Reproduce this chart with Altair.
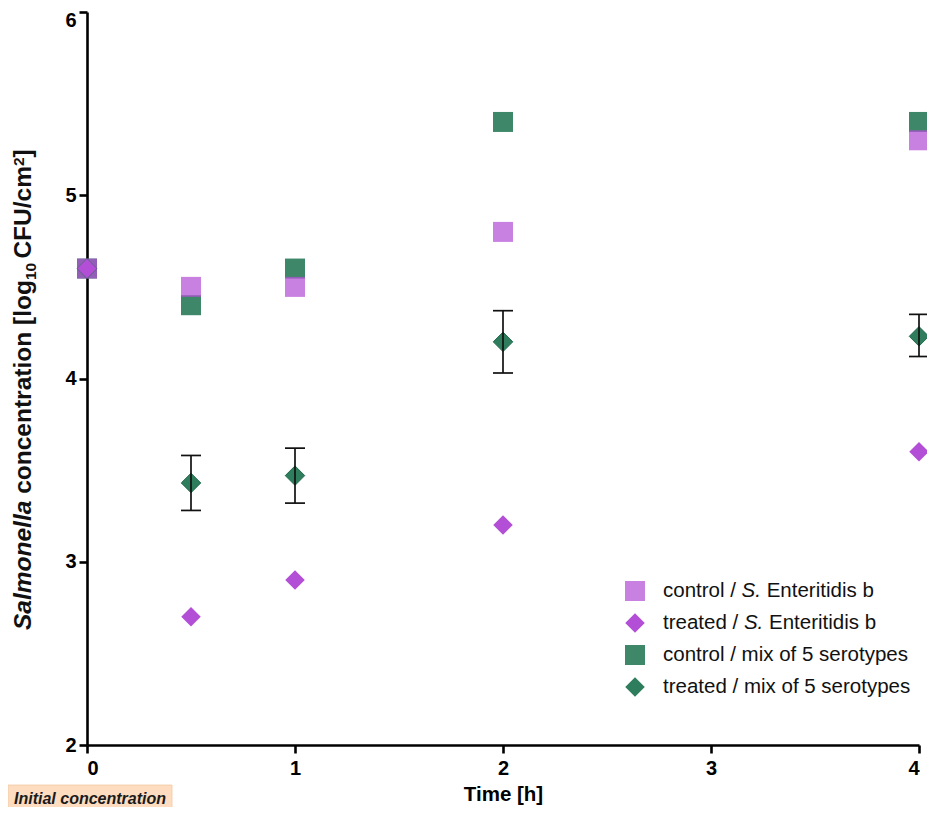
import altair as alt
import pandas as pd

# ---------------- data ----------------
time_h = [0, 0.5, 1, 2, 4]
control_se = [4.6, 4.5, 4.5, 4.8, 5.3]
treated_se = [4.6, 2.7, 2.9, 3.2, 3.6]
control_mix = [4.6, 4.4, 4.6, 5.4, 5.4]
treated_mix = [4.6, 3.43, 3.47, 4.2, 4.23]
err_time = [0.5, 1, 2, 4]
treated_mix_lo = [3.28, 3.32, 4.03, 4.12]
treated_mix_hi = [3.58, 3.62, 4.37, 4.35]
x_ticks = [0, 1, 2, 3, 4]
y_ticks = [2, 3, 4, 5, 6]

legend_rows = [
    ("control /", "S.", "Enteritidis b"),
    ("treated /", "S.", "Enteritidis b"),
    ("control / mix of 5 serotypes", "", ""),
    ("treated / mix of 5 serotypes", "", ""),
]
x_title = "Time [h]"
y_title_parts = ["Salmonella", "concentration [log", "10", "CFU/cm", "2", "]"]
note_text = "Initial concentration"

PURPLE = "#b34fd6"
GREEN = "#2e7d5c"
FONT = "Liberation Sans"

# Arial / Liberation Sans advance widths (per 1000 em)
REG = {' ': 278, '/': 278, '.': 278, 'a': 556, 'b': 556, 'c': 500, 'd': 556, 'e': 556,
       'f': 278, 'i': 222, 'l': 222, 'm': 833, 'n': 556, 'o': 556, 'p': 556, 'r': 333,
       's': 500, 't': 278, 'x': 500, 'y': 500, 'E': 667, 'S': 667, '5': 556}
BOLD = {' ': 278, '/': 278, '[': 333, ']': 333, 'a': 556, 'c': 556, 'e': 556, 'g': 611,
        'i': 278, 'l': 278, 'm': 889, 'n': 611, 'o': 611, 'r': 389, 't': 333, 'C': 722,
        'F': 611, 'U': 722, 'S': 667, '1': 556, '0': 556, '2': 556}


def tw(s, size, table):
    return sum(table.get(c, 556) for c in s) * size / 1000.0


df_cse = pd.DataFrame({"time": time_h, "value": control_se})
df_tse = pd.DataFrame({"time": time_h, "value": treated_se})
df_cmx = pd.DataFrame({"time": time_h, "value": control_mix})
df_tmx = pd.DataFrame({"time": time_h, "value": treated_mix})
df_err = pd.DataFrame({"time": err_time, "lo": treated_mix_lo, "hi": treated_mix_hi})

X = alt.X("time:Q", scale=alt.Scale(domain=[0, 4], nice=False, zero=False),
          axis=alt.Axis(values=x_ticks, title=x_title, format="d"))
Y_AX = alt.Axis(values=y_ticks, title=None, format="d",
                labelOffset={"condition": {"test": "datum.value >= 6", "value": 8},
                             "value": 0})
YS = alt.Scale(domain=[2, 6], nice=False, zero=False)

sq_mix = alt.Chart(df_cmx).mark_point(shape="square", filled=True, size=400,
                                        color=GREEN, opacity=0.92).encode(
    x=X, y=alt.Y("value:Q", scale=YS, axis=Y_AX))
sq_se = alt.Chart(df_cse).mark_point(shape="square", filled=True, size=400,
                                       color=PURPLE, opacity=0.72).encode(
    x=X, y=alt.Y("value:Q", scale=YS, axis=Y_AX))
dm_mix = alt.Chart(df_tmx).mark_point(shape="diamond", filled=True, size=380,
                                        color=GREEN, opacity=1, stroke="#1f6a4a",
                                        strokeWidth=1).encode(
    x=X, y=alt.Y("value:Q", scale=YS, axis=Y_AX))
dm_se = alt.Chart(df_tse).mark_point(shape="diamond", filled=True, size=380,
                                       color=PURPLE, opacity=1).encode(
    x=X, y=alt.Y("value:Q", scale=YS, axis=Y_AX))

err_rule = alt.Chart(df_err).mark_rule(color="#111111", strokeWidth=1.7).encode(
    x=X, y=alt.Y("lo:Q", scale=YS, axis=Y_AX), y2="hi:Q")
cap_lo = alt.Chart(df_err).mark_tick(orient="horizontal", size=20, thickness=1.7,
                                     color="#111111", opacity=1).encode(
    x=X, y=alt.Y("lo:Q", scale=YS, axis=Y_AX))
cap_hi = alt.Chart(df_err).mark_tick(orient="horizontal", size=20, thickness=1.7,
                                     color="#111111", opacity=1).encode(
    x=X, y=alt.Y("hi:Q", scale=YS, axis=Y_AX))

one = pd.DataFrame([{"k": 1}])

# ---------- legend (manual, to allow the italic "S.") ----------
LEG_FS = 20.5
leg_x_sym = 548
leg_x_txt = 576
leg_y0 = 579
leg_dy = 32
legend_layers = []
sym_defs = [("square", PURPLE, 0.72), ("diamond", PURPLE, 1.0),
            ("square", GREEN, 0.92), ("diamond", GREEN, 1.0)]
for i, (shape, col, op) in enumerate(sym_defs):
    yy = leg_y0 + i * leg_dy
    legend_layers.append(
        alt.Chart(one).mark_point(shape=shape, filled=True,
                                  size=400 if shape == "square" else 380,
                                  color=col, opacity=op).encode(
            x=alt.value(leg_x_sym), y=alt.value(yy)))
    pre, ital, post = legend_rows[i]
    legend_layers.append(
        alt.Chart(one).mark_text(text=pre, font=FONT, fontSize=LEG_FS, align="left",
                                 baseline="middle", color="#111111").encode(
            x=alt.value(leg_x_txt), y=alt.value(yy)))
    if ital:
        d1 = tw(pre + " ", LEG_FS, REG)
        d2 = d1 + tw(ital + " ", LEG_FS, REG)
        legend_layers.append(
            alt.Chart(one).mark_text(text=ital, font=FONT, fontSize=LEG_FS, align="left",
                                     baseline="middle", fontStyle="italic", dx=d1,
                                     color="#111111").encode(
                x=alt.value(leg_x_txt), y=alt.value(yy)))
        legend_layers.append(
            alt.Chart(one).mark_text(text=post, font=FONT, fontSize=LEG_FS, align="left",
                                     baseline="middle", dx=d2, color="#111111").encode(
                x=alt.value(leg_x_txt), y=alt.value(yy)))

# ---------- y title (rotated, mixed styles) ----------
YT_FS = 24.5
SUB_FS = 15.5
yt_x = -56
yt_y = 618
p_sal, p_conc, p_sub, p_cfu, p_sup, p_end = y_title_parts
offs = []
d = 0.0
offs.append(d); d += tw(p_sal + " ", YT_FS, BOLD)
offs.append(d); d += tw(p_conc, YT_FS, BOLD)
offs.append(d); d += tw(p_sub + " ", SUB_FS, BOLD)
offs.append(d); d += tw(p_cfu, YT_FS, BOLD)
offs.append(d); d += tw(p_sup, SUB_FS, BOLD)
offs.append(d)
sizes = [YT_FS, YT_FS, SUB_FS, YT_FS, SUB_FS, YT_FS]
dys = [0, 0, 5, 0, -7, 0]
styles = ["italic", "normal", "normal", "normal", "normal", "normal"]
ytitle_layers = []
for part, off, fs, dy, st in zip(y_title_parts, offs, sizes, dys, styles):
    ytitle_layers.append(
        alt.Chart(one).mark_text(text=part, font=FONT, fontSize=fs, fontWeight="bold",
                                 fontStyle=st, angle=270, align="left",
                                 baseline="alphabetic", dx=off, dy=dy,
                                 color="#111111").encode(
            x=alt.value(yt_x), y=alt.value(yt_y)))

# ---------- "Initial concentration" note ----------
note_box = alt.Chart(one).mark_rect(fill="#fddcbf", stroke="#f3c9a3",
                                    strokeWidth=0.8).encode(
    x=alt.value(-79), x2=alt.value(85), y=alt.value(773), y2=alt.value(801))
note_txt = alt.Chart(one).mark_text(text=note_text, font=FONT, fontSize=16,
                                    fontWeight="bold", fontStyle="italic",
                                    align="center", baseline="middle",
                                    color="#1a1a1a").encode(
    x=alt.value(3), y=alt.value(787))

chart = alt.layer(
    sq_mix, sq_se, dm_mix, dm_se, err_rule, cap_lo, cap_hi,
    *legend_layers, *ytitle_layers, note_box, note_txt
).properties(
    width=832, height=733,
    padding={"left": 79, "top": 4, "right": 8, "bottom": 62},
    autosize=alt.AutoSizeParams(type="none"),
    background="white",
).configure_view(stroke=None).configure_axis(
    grid=False,
    domainColor="#000000", domainWidth=2.6,
    tickColor="#000000", tickWidth=2.6, tickSize=8,
    labelFont=FONT, labelFontSize=20, labelFontWeight="bold", labelColor="#000000",
    titleFont=FONT, titleFontSize=20.5, titleFontWeight="bold", titleColor="#000000",
).configure_axisX(labelPadding=5, titlePadding=6).configure_axisY(labelPadding=3)

chart.save("out.html", embed_options={"renderer": "svg", "actions": False})
